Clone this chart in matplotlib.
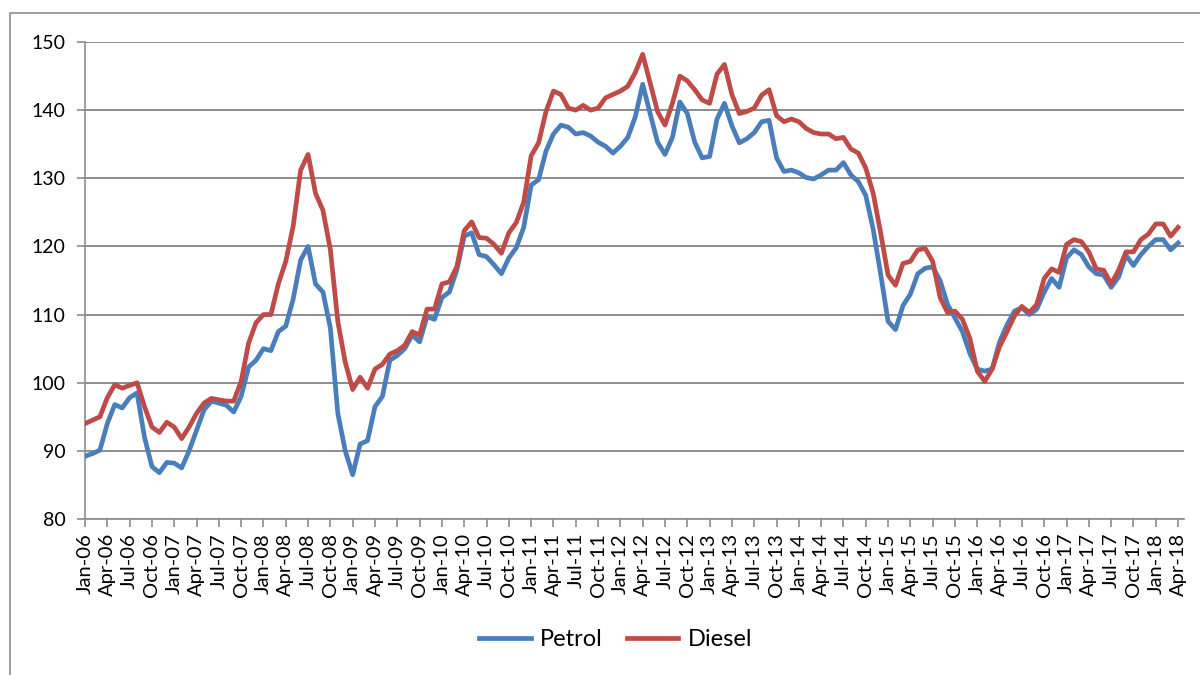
import matplotlib
matplotlib.use("Agg")
import matplotlib.pyplot as plt
from matplotlib.patches import Rectangle
import numpy as np

months = ["Jan", "Feb", "Mar", "Apr", "May", "Jun", "Jul", "Aug", "Sep", "Oct", "Nov", "Dec"]
years = list(range(6, 19))
dates = [f"{m}-{y:02d}" for y in years for m in months][:148]

petrol = [
    # 2006
    89.2, 89.6, 90.1, 94.0, 96.8, 96.3, 97.8, 98.5, 92.0, 87.7, 86.8, 88.3,
    # 2007
    88.2, 87.5, 90.0, 93.0, 96.0, 97.3, 97.0, 96.7, 95.7, 98.0, 102.3, 103.3,
    # 2008
    105.0, 104.7, 107.5, 108.3, 112.3, 118.0, 120.0, 114.5, 113.3, 108.0, 95.5, 90.0,
    # 2009
    86.5, 91.0, 91.5, 96.5, 98.0, 103.3, 104.0, 105.0, 107.0, 106.0, 109.7, 109.3,
    # 2010
    112.5, 113.3, 116.5, 121.5, 122.0, 118.8, 118.5, 117.3, 116.0, 118.3, 119.8, 122.8,
    # 2011
    129.0, 129.8, 134.0, 136.5, 137.8, 137.5, 136.5, 136.7, 136.2, 135.3, 134.7, 133.7,
    # 2012
    134.7, 136.0, 139.0, 143.8, 139.5, 135.3, 133.5, 136.0, 141.2, 139.5, 135.3, 133.0,
    # 2013
    133.2, 138.7, 141.0, 137.7, 135.2, 135.8, 136.7, 138.3, 138.5, 133.0, 131.0, 131.2,
    # 2014
    130.8, 130.1, 129.9, 130.5, 131.2, 131.2, 132.3, 130.5, 129.5, 127.5, 122.5, 116.0,
    # 2015
    109.0, 107.8, 111.3, 113.0, 116.0, 116.8, 117.0, 115.0, 111.5, 109.5, 107.5, 104.3,
    # 2016
    102.0, 101.7, 102.0, 106.0, 108.5, 110.5, 111.0, 110.0, 110.8, 113.3, 115.3, 114.0,
    # 2017
    118.3, 119.5, 118.8, 117.0, 116.0, 115.8, 114.0, 115.5, 118.7, 117.2, 118.8, 120.0,
    # 2018
    121.0, 121.0, 119.5, 120.5,
]

diesel = [
    # 2006
    94.0, 94.5, 95.0, 97.8, 99.7, 99.2, 99.6, 100.0, 96.5, 93.5, 92.7, 94.2,
    # 2007
    93.5, 91.8, 93.5, 95.5, 97.0, 97.7, 97.5, 97.3, 97.3, 100.2, 105.8, 108.8,
    # 2008
    110.0, 110.0, 114.5, 117.8, 123.0, 131.2, 133.5, 127.8, 125.3, 119.5, 109.0, 103.0,
    # 2009
    99.0, 100.8, 99.2, 102.0, 102.7, 104.2, 104.7, 105.5, 107.5, 107.0, 110.8, 110.8,
    # 2010
    114.5, 114.8, 117.0, 122.3, 123.6, 121.3, 121.2, 120.3, 119.0, 122.0, 123.5, 126.5,
    # 2011
    133.3, 135.2, 139.8, 142.8, 142.3, 140.3, 140.0, 140.7, 140.0, 140.3, 141.8, 142.3,
    # 2012
    142.8, 143.5, 145.5, 148.2, 144.0, 139.8, 137.8, 141.0, 145.0, 144.3, 143.0, 141.5,
    # 2013
    141.0, 145.3, 146.7, 142.3, 139.5, 139.8, 140.3, 142.2, 143.0, 139.2, 138.3, 138.7,
    # 2014
    138.3, 137.3, 136.7, 136.5, 136.5, 135.8, 136.0, 134.3, 133.7, 131.5, 127.8, 122.0,
    # 2015
    115.8, 114.3, 117.5, 117.8, 119.5, 119.7, 117.8, 112.5, 110.3, 110.5, 109.3, 106.5,
    # 2016
    101.7, 100.2, 102.0, 105.3, 107.5, 109.8, 111.2, 110.3, 111.5, 115.3, 116.7, 116.2,
    # 2017
    120.3, 121.0, 120.7, 119.2, 116.7, 116.5, 114.5, 116.5, 119.2, 119.2, 121.0, 121.8,
    # 2018
    123.3, 123.3, 121.5, 122.8,
]

y_ticks = [80, 90, 100, 110, 120, 130, 140, 150]

plt.rcParams['font.family'] = ['Lato', 'DejaVu Sans']

fig = plt.figure(figsize=(12, 6.75), dpi=100)
ax = fig.add_axes([85 / 1200, 1 - 519 / 675, 1099 / 1200, 477 / 675])

x = np.arange(len(dates))
ax.plot(x, petrol, color='#4A7EBB', lw=3.4, label='Petrol', solid_joinstyle='round', zorder=3)
ax.plot(x, diesel, color='#BE4B48', lw=3.4, label='Diesel', solid_joinstyle='round', zorder=3)

ax.set_xlim(0, len(dates) - 1 + 0.8)
ax.set_ylim(80, 150)
ax.set_yticks(y_ticks)
ax.set_yticklabels([str(v) for v in y_ticks], fontsize=14)
tick_idx = x[::3]
ax.set_xticks(tick_idx)
ax.set_xticklabels([dates[i] for i in tick_idx], rotation=90, fontsize=14.5)

ax.grid(axis='y', color='#8c8c8c', lw=1.4, zorder=0)
for s in ['top', 'right']:
    ax.spines[s].set_visible(False)
for s in ['left', 'bottom']:
    ax.spines[s].set_color('#8c8c8c')
    ax.spines[s].set_linewidth(1.2)
ax.tick_params(axis='both', color='#8c8c8c', length=6, width=1.2, direction='out', pad=4)
ax.tick_params(axis='y', pad=8)

leg = fig.legend(loc='center', bbox_to_anchor=(0.513, 1 - 640 / 675), ncol=2, frameon=False,
                 fontsize=17, handlelength=2.2, columnspacing=1.0, handletextpad=0.4)

fig.patches.append(Rectangle((10 / 1200, -0.05), 1.2, 1 - 13 / 675 + 0.05, transform=fig.transFigure,
                             fill=False, edgecolor='#8c8c8c', lw=1.2, zorder=0))

fig.savefig('out.png', dpi=100)
